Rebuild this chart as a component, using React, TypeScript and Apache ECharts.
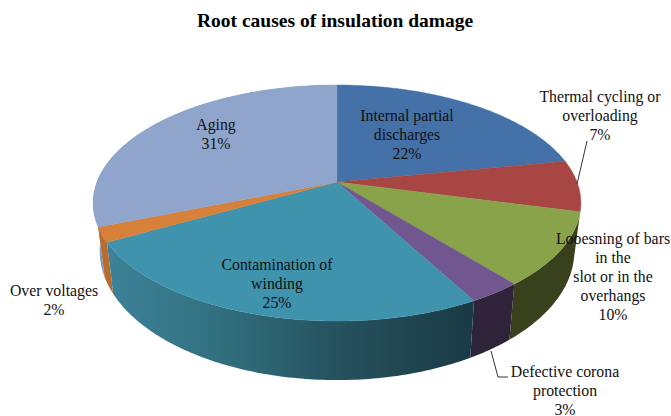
import React, { useEffect, useRef } from "react";
import * as echarts from "echarts";

const TITLE = "Root causes of insulation damage";
const categories = [
  "Internal partial discharges",
  "Thermal cycling or overloading",
  "Looesning of bars in the slot or in the overhangs",
  "Defective corona protection",
  "Contamination of winding",
  "Over voltages",
  "Aging",
];
const values = [22, 7, 10, 3, 25, 2, 31];
const faceColors = ["#4471a7", "#a74643", "#88a34a", "#71568f", "#3f93ad", "#d7803a", "#8fa5cc"];

const FONT = '"Liberation Serif", "Times New Roman", serif';
const labelLines = [
  ["Internal partial", "discharges", "22%"],
  ["Thermal cycling or", "overloading", "7%"],
  ["Looesning of bars", "in the", "slot or in the", "overhangs", "10%"],
  ["Defective corona", "protection", "3%"],
  ["Contamination of", "winding", "25%"],
  ["Over voltages", "2%"],
  ["Aging", "31%"],
];
const labelAnchors = [
  [407, 115.5],
  [600, 96.5],
  [613, 238],
  [565, 371],
  [277, 264],
  [54, 290],
  [216, 124.5],
];

const TOP_RIM = { cx: 337, cy: 182, a: 240, b: 114.3, k: 0.178 };
const BOTTOM_RIM = { cx: 337, cy: 228, a: 233.5, b: 125, k: 0.178 };

const total = values.reduce((s, v) => s + v, 0);
const starts: number[] = [];
values.reduce((acc, v, i) => {
  starts[i] = acc;
  return acc + v;
}, 0);

type Rim = typeof TOP_RIM;
const project = (rim: Rim, t: number): number[] => {
  const u = Math.sin(t);
  const v = -Math.cos(t);
  const w = 1 - rim.k * v;
  return [rim.cx + (rim.a * u) / w, rim.cy + (rim.b * v) / w];
};
const arc = (rim: Rim, t0: number, t1: number): number[][] => {
  const n = Math.max(2, Math.ceil(Math.abs(t1 - t0) / 0.015));
  const pts: number[][] = [];
  for (let i = 0; i <= n; i++) pts.push(project(rim, t0 + ((t1 - t0) * i) / n));
  return pts;
};
const sliceAngles = (i: number, v: number) => {
  const t0 = (starts[i] / total) * Math.PI * 2;
  const t1 = t0 + (v / total) * Math.PI * 2;
  return [t0, t1];
};

const gradient = (stops: [number, string][]) =>
  new echarts.graphic.LinearGradient(
    0,
    0,
    1,
    0,
    stops.map(([offset, color]) => ({ offset, color }))
  );

const wallFills: any[] = [
  null,
  null,
  "#38401c",
  "#2e2339",
  gradient([
    [0, "#3d8299"],
    [0.3, "#32707f"],
    [0.6, "#265460"],
    [1, "#1a3a45"],
  ]),
  "#b86c30",
  "#8496bd",
];
const wallOrder = [0, 0, 2, 3, 4, 3, 1];

const renderFace = (params: any, api: any) => {
  const i = params.dataIndex;
  const [t0, t1] = sliceAngles(i, api.value(0));
  const color = faceColors[i];
  return {
    type: "polygon",
    shape: { points: [[TOP_RIM.cx, TOP_RIM.cy], ...arc(TOP_RIM, t0, t1)] },
    style: { fill: color, stroke: color, lineWidth: 0.4 },
  };
};

const renderWall = (params: any, api: any) => {
  const i = params.dataIndex;
  const fill = wallFills[i];
  if (!fill) return null;
  const [t0, t1] = sliceAngles(i, api.value(0));
  return {
    type: "polygon",
    z2: wallOrder[i],
    shape: { points: [...arc(TOP_RIM, t0, t1), ...arc(BOTTOM_RIM, t1, t0)] },
    style: { fill },
  };
};

const labelGraphics = labelLines.flatMap((lines, i) =>
  lines.map((text, j) => ({
    type: "text",
    x: labelAnchors[i][0],
    y: labelAnchors[i][1] + j * 19,
    z: 10,
    style: {
      text,
      font: `15.8px ${FONT}`,
      fill: "#111111",
      textAlign: "center",
      textVerticalAlign: "middle",
    },
  }))
);

export default function App() {
  const ref = useRef<HTMLDivElement>(null);
  useEffect(() => {
    if (!ref.current) return;
    const chart = echarts.init(ref.current, undefined, { renderer: "svg" });
    chart.setOption({
      animation: false,
      backgroundColor: "#ffffff",
      title: {
        text: TITLE,
        left: 192,
        top: 5.5,
        textStyle: { fontFamily: FONT, fontSize: 19.5, fontWeight: "bold", color: "#000000" },
      },
      series: [
        {
          type: "custom",
          name: "walls",
          coordinateSystem: "none",
          silent: true,
          z: 1,
          data: values.map((value, i) => ({ name: categories[i], value })),
          renderItem: renderWall,
        },
        {
          type: "custom",
          name: "faces",
          coordinateSystem: "none",
          silent: true,
          z: 2,
          data: values.map((value, i) => ({ name: categories[i], value })),
          renderItem: renderFace,
        },
      ],
      graphic: [
        {
          type: "polyline",
          z: 9,
          shape: { points: [[587, 141], [577, 184]] },
          style: { stroke: "#333333", lineWidth: 1, fill: "none" },
        },
        {
          type: "polyline",
          z: 9,
          shape: { points: [[491, 351], [498, 377], [508, 377]] },
          style: { stroke: "#333333", lineWidth: 1, fill: "none" },
        },
        ...labelGraphics,
      ],
    });
    return () => chart.dispose();
  }, []);
  return (
    <div
      ref={ref}
      style={{ position: "absolute", left: 0, top: 0, width: 671, height: 416 }}
    />
  );
}
